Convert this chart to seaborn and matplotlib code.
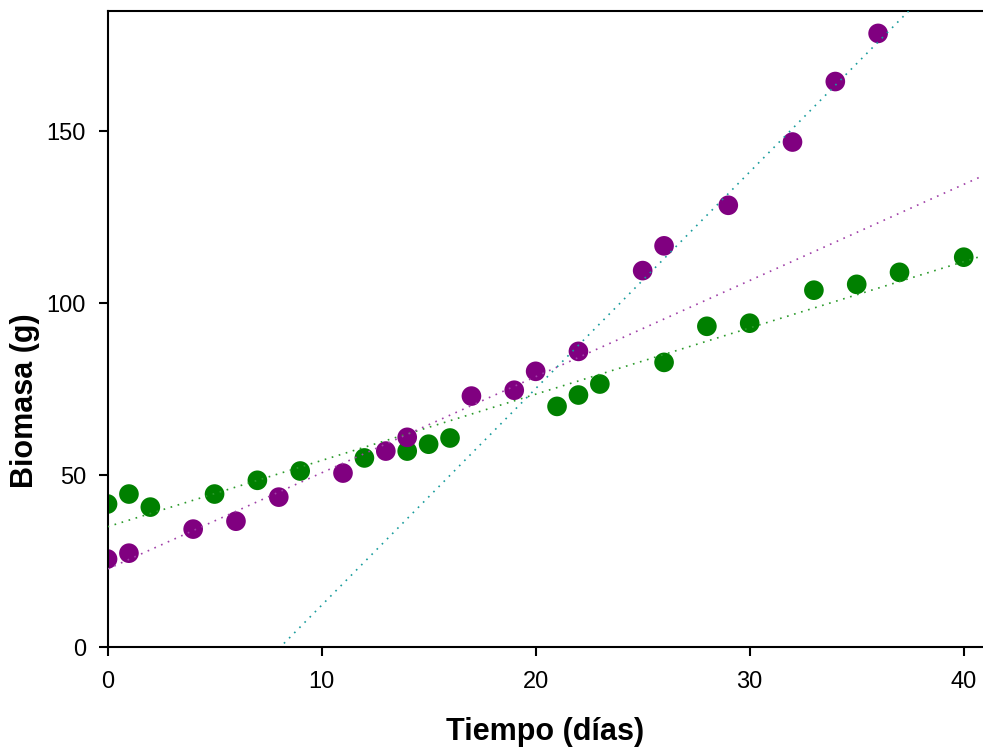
import numpy as np
import pandas as pd
import matplotlib
matplotlib.use("Agg")
import matplotlib.pyplot as plt
import seaborn as sns

# Biomass measurements (g) over time (days)
green_days = [0, 1, 2, 5, 7, 9, 12, 14, 15, 16, 21, 22, 23, 26, 28, 30, 33, 35, 37, 40]
green_mass = [41.6, 44.5, 40.7, 44.5, 48.5, 51.2, 55.0, 57.0, 59.0, 60.8,
              70.0, 73.3, 76.5, 82.8, 93.3, 94.2, 103.8, 105.5, 109.0, 113.4]

purple_days = [0, 1, 4, 6, 8, 11, 13, 14, 17, 19, 20, 22, 25, 26, 29, 32, 34, 36]
purple_mass = [25.6, 27.3, 34.3, 36.6, 43.6, 50.6, 57.0, 61.0, 73.0, 74.7, 80.2, 86.0,
               109.5, 116.7, 128.5, 146.9, 164.5, 178.5]

# Growth phases used for the purple trend lines
purple_early_max_day = 22
purple_late_min_day = 26

x_ticks = [0, 10, 20, 30, 40]
y_ticks = [0, 50, 100, 150]

green = pd.DataFrame({"dias": green_days, "biomasa": green_mass})
purple = pd.DataFrame({"dias": purple_days, "biomasa": purple_mass})
purple_early = purple[purple["dias"] <= purple_early_max_day]
purple_late = purple[purple["dias"] >= purple_late_min_day]

sns.set_theme(style="white")
plt.rcParams["font.family"] = ["Liberation Sans", "DejaVu Sans"]

fig = plt.figure(figsize=(9.83, 7.52), dpi=100)
ax = fig.add_axes([0.1094, 0.1396, 0.8906, 0.8457])
ax.set_xlim(0, 40.9)
ax.set_ylim(0, 185)

dot = (0, (1, 3.4))
line_common = dict(scatter=False, ci=None, truncate=False, ax=ax)
sns.regplot(data=green, x="dias", y="biomasa",
            line_kws=dict(color="#2a9a2a", lw=1.2, ls=dot, zorder=3), **line_common)
sns.regplot(data=purple_early, x="dias", y="biomasa",
            line_kws=dict(color="#a040a8", lw=1.2, ls=dot, zorder=3), **line_common)
sns.regplot(data=purple_late, x="dias", y="biomasa",
            line_kws=dict(color="#199c9c", lw=1.2, ls=dot, zorder=3), **line_common)

sns.scatterplot(data=green, x="dias", y="biomasa", color="#008000", s=200,
                edgecolor="none", ax=ax, zorder=2)
sns.scatterplot(data=purple, x="dias", y="biomasa", color="#800080", s=200,
                edgecolor="none", ax=ax, zorder=2)

ax.set_xlim(0, 40.9)
ax.set_ylim(0, 185)
ax.set_xticks(x_ticks)
ax.set_yticks(y_ticks)
ax.set_xticklabels([str(v) for v in x_ticks])
ax.set_yticklabels([str(v) for v in y_ticks])

for side in ["left", "bottom", "top"]:
    ax.spines[side].set_visible(True)
    ax.spines[side].set_color("black")
    ax.spines[side].set_linewidth(1.5)
ax.spines["right"].set_visible(False)

ax.tick_params(axis="both", which="major", direction="out", length=6.5, width=1.5,
               color="black", labelsize=17, labelcolor="black")
ax.tick_params(axis="y", pad=9, left=True)
ax.tick_params(axis="x", pad=11, bottom=True)

ax.set_xlabel("Tiempo (días)", fontsize=22, fontweight="bold", color="black")
ax.set_ylabel("Biomasa (g)", fontsize=22, fontweight="bold", color="black")
ax.xaxis.set_label_coords(0.5, -0.11)
ax.yaxis.set_label_coords(-0.077, 0.387)

fig.savefig("out.png", dpi=100)
